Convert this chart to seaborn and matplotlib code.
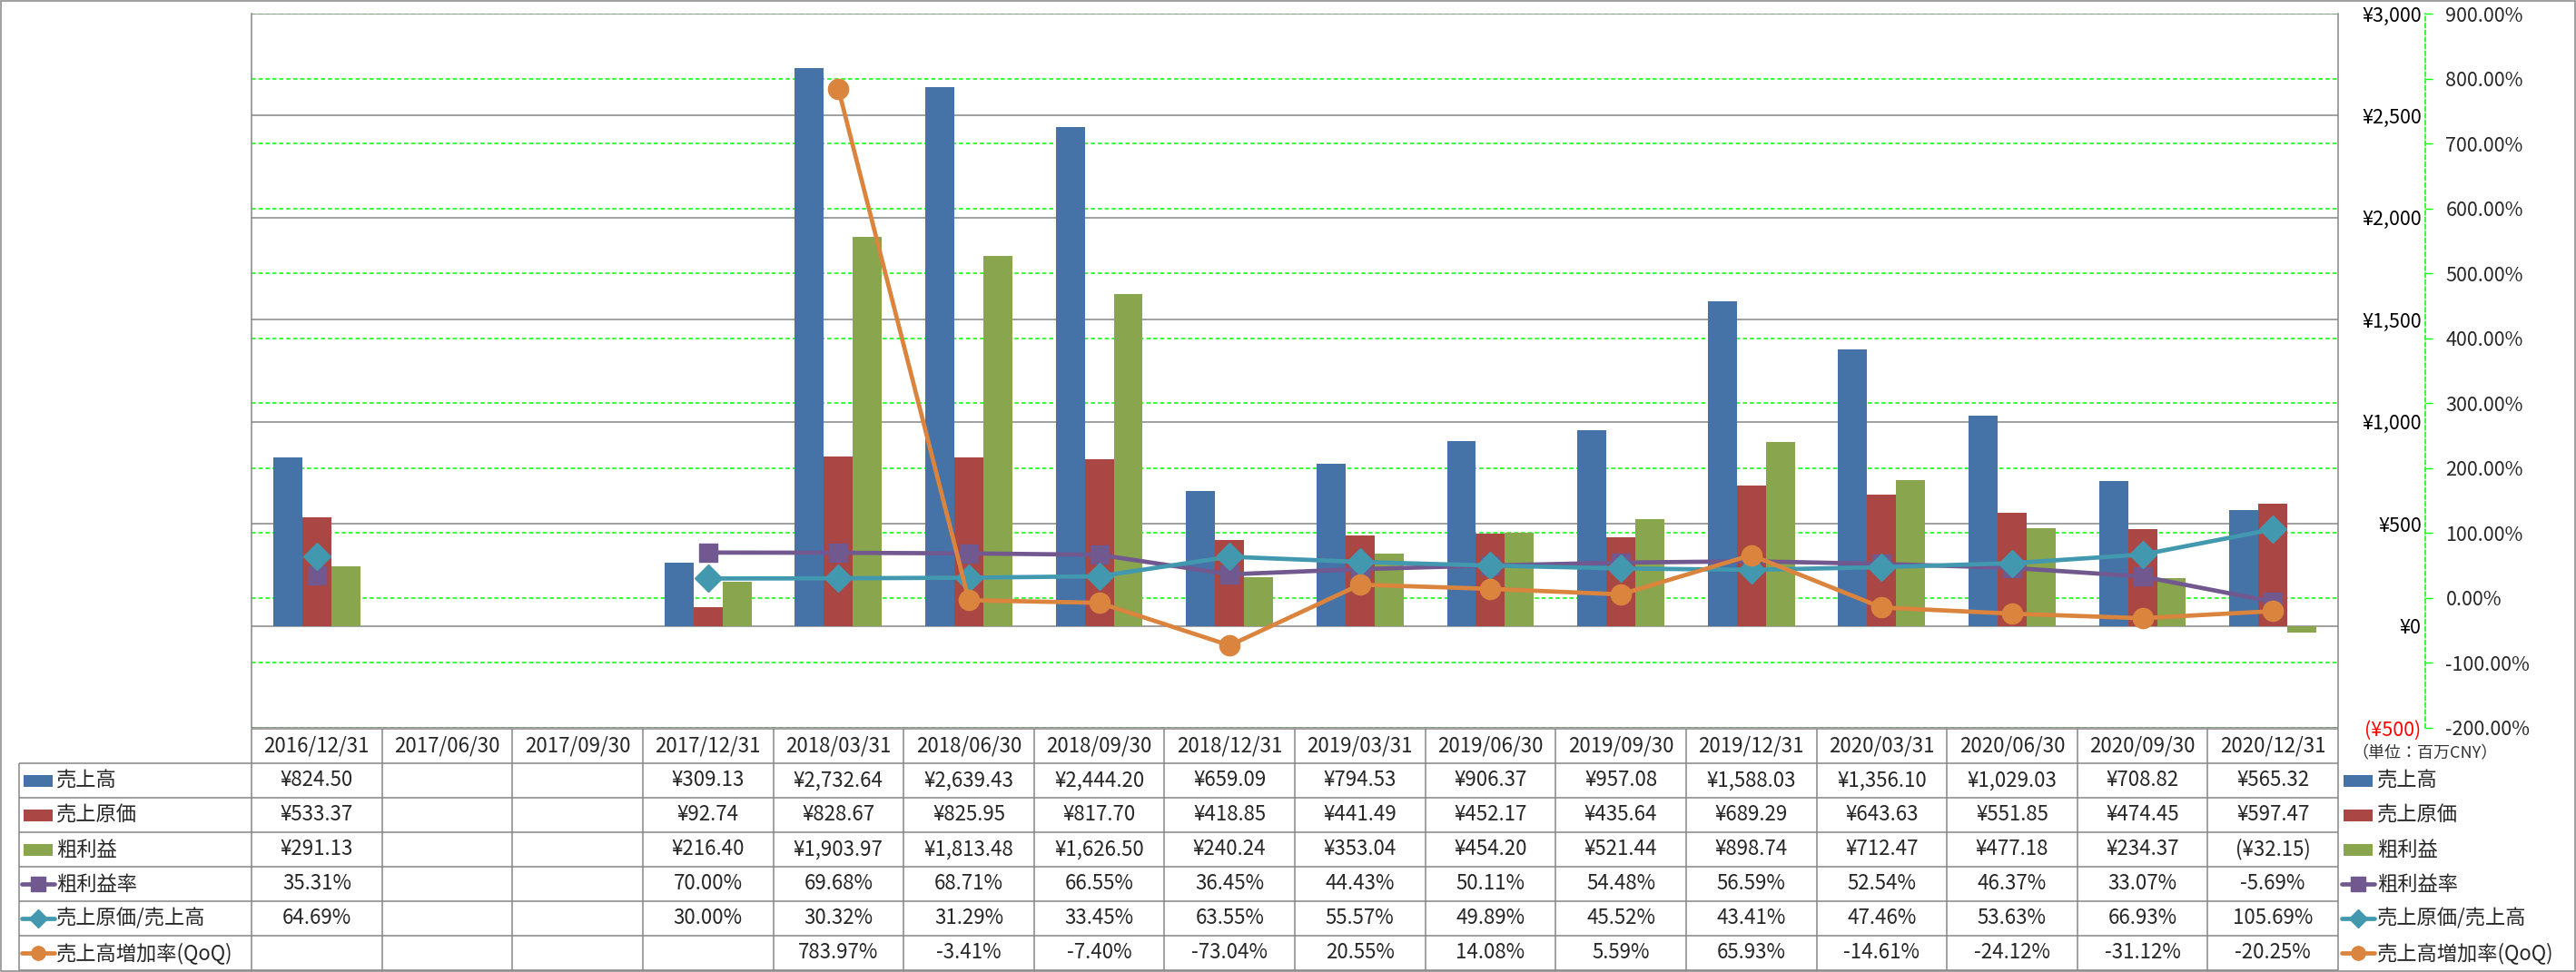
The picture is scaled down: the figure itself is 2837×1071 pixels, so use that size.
import numpy as np
import pandas as pd
import matplotlib
matplotlib.use('Agg')
import matplotlib.pyplot as plt
from matplotlib.patches import Rectangle
import seaborn as sns

# ---- data (百万CNY) ----
dates = ['2016/12/31', '2017/06/30', '2017/09/30', '2017/12/31', '2018/03/31', '2018/06/30',
         '2018/09/30', '2018/12/31', '2019/03/31', '2019/06/30', '2019/09/30', '2019/12/31',
         '2020/03/31', '2020/06/30', '2020/09/30', '2020/12/31']
nan = np.nan
sales = [824.50, nan, nan, 309.13, 2732.64, 2639.43, 2444.20, 659.09, 794.53, 906.37,
         957.08, 1588.03, 1356.10, 1029.03, 708.82, 565.32]
cogs = [533.37, nan, nan, 92.74, 828.67, 825.95, 817.70, 418.85, 441.49, 452.17,
        435.64, 689.29, 643.63, 551.85, 474.45, 597.47]
gross = [291.13, nan, nan, 216.40, 1903.97, 1813.48, 1626.50, 240.24, 353.04, 454.20,
         521.44, 898.74, 712.47, 477.18, 234.37, -32.15]
gross_margin = [35.31, nan, nan, 70.00, 69.68, 68.71, 66.55, 36.45, 44.43, 50.11,
                54.48, 56.59, 52.54, 46.37, 33.07, -5.69]
cogs_ratio = [64.69, nan, nan, 30.00, 30.32, 31.29, 33.45, 63.55, 55.57, 49.89,
              45.52, 43.41, 47.46, 53.63, 66.93, 105.69]
sales_qoq = [nan, nan, nan, nan, 783.97, -3.41, -7.40, -73.04, 20.55, 14.08,
             5.59, 65.93, -14.61, -24.12, -31.12, -20.25]

bar_names = ['売上高', '売上原価', '粗利益']
line_names = ['粗利益率', '売上原価/売上高', '売上高増加率(QoQ)']
bar_colors = ['#4572A7', '#AA4643', '#89A54E']
line_colors = ['#71588F', '#4198AF', '#DB843D']
line_markers = ['s', 'D', 'o']

yen_ticks = np.arange(-500, 3001, 500)
pct_ticks = np.arange(-200, 901, 100)

# ---- style ----
sns.set_style('white')
plt.rcParams['font.family'] = ['Noto Sans CJK JP', 'DejaVu Sans']
GRAY = '#868686'
FS = 16
FS_AX = 15.5

W, H = 2837, 1071
L, R, T, B = 277, 2575, 15, 802
fig = plt.figure(figsize=(W / 100, H / 100), dpi=100)

# green grid layer (secondary scale, behind the bars)
ax = fig.add_axes([L / W, 1 - B / H, (R - L) / W, (B - T) / H])
ax3 = ax.twinx()
ax2 = ax.twinx()
ax3.set_zorder(0)
ax.set_zorder(1)
ax2.set_zorder(2)
ax.patch.set_visible(False)
ax2.patch.set_visible(False)

# ---- bars ----
bar_df = pd.DataFrame({
    'date': dates * 3,
    'series': [n for n in bar_names for _ in dates],
    'value': sales + cogs + gross,
}).dropna()
sns.barplot(data=bar_df, x='date', y='value', hue='series', order=dates, hue_order=bar_names,
            palette=bar_colors, saturation=1, width=0.667, errorbar=None, linewidth=0,
            legend=False, ax=ax)
ax.set_xlim(-0.5, len(dates) - 0.5)
ax.set_xlabel('')
ax.set_ylabel('')
ax.tick_params(axis='x', bottom=False, labelbottom=False)

ax.set_ylim(-500, 3000)
ax.set_yticks(yen_ticks, labels=[f'(¥{abs(v):,})' if v < 0 else f'¥{v:,}' for v in yen_ticks])
ax.yaxis.tick_right()
ax.tick_params(axis='y', length=0, pad=66, labelsize=FS_AX, labelright=True, labelleft=False)
for t, v in zip(ax.get_yticklabels(), yen_ticks):
    t.set_horizontalalignment('right')
    t.set_color('red' if v < 0 else 'black')
ax.set_axisbelow(True)
ax.grid(True, axis='y', color=GRAY, linewidth=1.1)
ax.grid(False, axis='x')
for s in ['top', 'bottom']:
    ax.spines[s].set_visible(False)
for s in ['left', 'right']:
    ax.spines[s].set_color(GRAY)
    ax.spines[s].set_linewidth(1.1)

# green dashed grid on secondary scale
ax3.set_ylim(-200, 900)
ax3.set_yticks(pct_ticks)
ax3.tick_params(right=False, labelright=False, left=False, labelleft=False)
ax3.grid(True, axis='y', color='#00FF00', linewidth=1.1, dashes=(3, 2))
for s in ax3.spines.values():
    s.set_visible(False)

# ---- lines (secondary axis) ----
xpos = np.arange(len(dates))
for vals, c, m, ms in zip([gross_margin, cogs_ratio, sales_qoq], line_colors, line_markers,
                          [15, 15, 16]):
    ax2.plot(xpos, vals, color=c, linewidth=3.4, marker=m, markersize=ms,
             markeredgecolor=c, markerfacecolor=c)
ax2.set_ylim(-200, 900)
ax2.set_yticks(pct_ticks, labels=[f'{v:.2f}%' for v in pct_ticks])
ax2.tick_params(axis='y', direction='out', length=5.8, width=1, color='#00FF00',
                pad=10.5, labelsize=FS_AX)
for t, v in zip(ax2.get_yticklabels(), pct_ticks):
    t.set_color('red' if v < 0 else 'black')
for s in ['left', 'top', 'bottom']:
    ax2.spines[s].set_visible(False)
ax2.spines['right'].set_position(('outward', 69))
ax2.spines['right'].set_color('#00FF00')
ax2.spines['right'].set_linestyle((0, (3, 2)))
ax2.spines['right'].set_linewidth(1.1)

# ---- data table + legend (pixel overlay) ----
ov = fig.add_axes([0, 0, 1, 1], zorder=10)
ov.set_xlim(0, W)
ov.set_ylim(H, 0)
ov.axis('off')
ov.patch.set_visible(False)

n = len(dates)
col_w = (R - L) / n
hdr_top, hdr_bot, row_h = 803, 841, 38
lab_left = 21
lw = 1.1


def yen(v):
    if np.isnan(v):
        return ''
    return f'(¥{abs(v):,.2f})' if v < 0 else f'¥{v:,.2f}'


def pct(v):
    return '' if np.isnan(v) else f'{v:.2f}%'


rows = [(bar_names[0], sales, yen), (bar_names[1], cogs, yen), (bar_names[2], gross, yen),
        (line_names[0], gross_margin, pct), (line_names[1], cogs_ratio, pct),
        (line_names[2], sales_qoq, pct)]
bottom = hdr_bot + row_h * len(rows)

# grid lines
ov.hlines([hdr_top], L, R, color=GRAY, lw=lw)
ov.hlines([hdr_bot + row_h * k for k in range(len(rows) + 1)], lab_left, R, color=GRAY, lw=lw)
ov.vlines([L + col_w * k for k in range(n + 1)], hdr_top, bottom, color=GRAY, lw=lw)
ov.vlines([lab_left], hdr_bot, bottom, color=GRAY, lw=lw)

for i, d in enumerate(dates):
    ov.text(L + (i + 0.5) * col_w, (hdr_top + hdr_bot) / 2, d, ha='center', va='center',
            fontsize=FS)

all_colors = bar_colors + line_colors
for r, (name, vals, fmt) in enumerate(rows):
    cy = hdr_bot + (r + 0.5) * row_h
    for i, v in enumerate(vals):
        ov.text(L + (i + 0.5) * col_w, cy, fmt(v), ha='center', va='center', fontsize=FS)
    c = all_colors[r]
    # key in table label column and in the right legend
    for kx0, kx1, tx in [(26, 58, 62), (2581, 2613, 2618)]:
        if r < 3:
            ov.add_patch(Rectangle((kx0, cy - 6.5), kx1 - kx0, 13, color=c, lw=0))
        else:
            ov.plot([kx0 - 2, kx1 + 2], [cy, cy], color=c, lw=3.4, solid_capstyle='round')
            ov.plot([(kx0 + kx1) / 2], [cy], marker=line_markers[r - 3], color=c,
                    markersize=11 if r != 4 else 10)
        ov.text(tx, cy, name, ha='left', va='center', fontsize=FS)

ov.text(2590, 830, '（単位：百万CNY）', ha='left', va='center', fontsize=13, color='#333333')

# outer chart border
ov.add_patch(Rectangle((0.5, 0.5), W - 1.5, H - 1.5, fill=False, ec=GRAY, lw=1.1))

fig.savefig('out.png', dpi=100)
